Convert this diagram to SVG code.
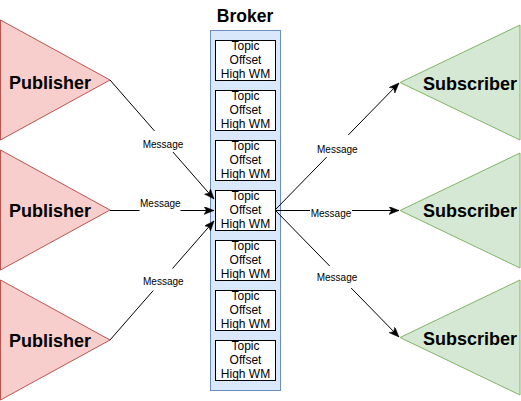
<svg xmlns="http://www.w3.org/2000/svg" width="521" height="401" viewBox="0 0 521 401">
<style>
.pub{fill:#f8cecc;stroke:#b85450;stroke-width:1}
.sub{fill:#d5e8d4;stroke:#82b366;stroke-width:1}
.big{font-family:"Liberation Sans",Arial,sans-serif;font-weight:bold;font-size:18px;fill:#000;text-anchor:middle}
.box{fill:#fff;stroke:#000;stroke-width:1}
.bt{font-family:"Liberation Sans",Arial,sans-serif;font-size:12px;fill:#000;text-anchor:middle}
.edge{stroke:#000;stroke-width:1;fill:none}
.lbg{fill:#fff;stroke:none}
.lt{font-family:"Liberation Sans",Arial,sans-serif;font-size:10px;fill:#000;text-anchor:middle}
</style>
<defs>
<marker id="arr" markerUnits="userSpaceOnUse" markerWidth="12" markerHeight="10" refX="10" refY="4" orient="auto">
<path d="M0,0 L10,4 L0,8 L2.5,4 Z" fill="#000" stroke="#000" stroke-width="0.5"/>
</marker>
</defs>
<rect width="521" height="401" fill="#fff"/>

<g id="broker">
<text class="big" x="245" y="22" style="font-size:17.5px">Broker</text>
<rect x="210.5" y="30.5" width="70" height="360" fill="#dae8fc" stroke="#6c8ebf"/>
</g>
<g id="slot1"><rect class="box" x="215.5" y="40.5" width="60" height="40"/><text class="bt" x="245.5" y="50">Topic</text><text class="bt" x="245.5" y="64">Offset</text><text class="bt" x="245.5" y="78">High WM</text></g>
<g id="slot2"><rect class="box" x="215.5" y="90.5" width="60" height="40"/><text class="bt" x="245.5" y="100">Topic</text><text class="bt" x="245.5" y="114">Offset</text><text class="bt" x="245.5" y="128">High WM</text></g>
<g id="slot3"><rect class="box" x="215.5" y="140.5" width="60" height="40"/><text class="bt" x="245.5" y="150">Topic</text><text class="bt" x="245.5" y="164">Offset</text><text class="bt" x="245.5" y="178">High WM</text></g>
<g id="slot4"><rect class="box" x="215.5" y="190.5" width="60" height="40"/><text class="bt" x="245.5" y="200">Topic</text><text class="bt" x="245.5" y="214">Offset</text><text class="bt" x="245.5" y="228">High WM</text></g>
<g id="slot5"><rect class="box" x="215.5" y="240.5" width="60" height="40"/><text class="bt" x="245.5" y="250">Topic</text><text class="bt" x="245.5" y="264">Offset</text><text class="bt" x="245.5" y="278">High WM</text></g>
<g id="slot6"><rect class="box" x="215.5" y="290.5" width="60" height="40"/><text class="bt" x="245.5" y="300">Topic</text><text class="bt" x="245.5" y="314">Offset</text><text class="bt" x="245.5" y="328">High WM</text></g>
<g id="slot7"><rect class="box" x="215.5" y="340.5" width="60" height="40"/><text class="bt" x="245.5" y="350">Topic</text><text class="bt" x="245.5" y="364">Offset</text><text class="bt" x="245.5" y="378">High WM</text></g>

<g id="pub1"><polygon class="pub" points="0.5,20 110,80 0.5,140"/><text class="big" x="50" y="89">Publisher</text></g>
<g id="pub2"><polygon class="pub" points="0.5,150 110,210 0.5,270"/><text class="big" x="50" y="217">Publisher</text></g>
<g id="pub3"><polygon class="pub" points="0.5,280 110,340 0.5,400"/><text class="big" x="50" y="347">Publisher</text></g>

<g id="sub1"><polygon class="sub" points="520,25 400,82.5 520,140"/><text class="big" x="470" y="90">Subscriber</text></g>
<g id="sub2"><polygon class="sub" points="520,153 400,210.5 520,268"/><text class="big" x="470" y="217">Subscriber</text></g>
<g id="sub3"><polygon class="sub" points="520,280 400,337.5 520,395"/><text class="big" x="470" y="345">Subscriber</text></g>

<g id="connectors">
<line class="edge" x1="110" y1="80" x2="214" y2="199" marker-end="url(#arr)"/>
<line class="edge" x1="110" y1="210.5" x2="214" y2="210.5" marker-end="url(#arr)"/>
<line class="edge" x1="110" y1="340" x2="214" y2="221" marker-end="url(#arr)"/>
<line class="edge" x1="275" y1="210" x2="399" y2="83" marker-end="url(#arr)"/>
<line class="edge" x1="275" y1="210.5" x2="399" y2="210.5" marker-end="url(#arr)"/>
<line class="edge" x1="275" y1="210" x2="399" y2="337" marker-end="url(#arr)"/>
<rect class="lbg" x="142" y="131" width="42" height="21"/><text class="lt" x="163" y="148">Message</text>
<rect class="lbg" x="139.5" y="199" width="41" height="14"/><text class="lt" x="160.3" y="207">Message</text>
<rect class="lbg" x="142" y="268.5" width="42" height="22"/><text class="lt" x="163.3" y="285">Message</text>
<rect class="lbg" x="316" y="135" width="42" height="22"/><text class="lt" x="337.3" y="152.5">Message</text>
<rect class="lbg" x="310" y="205" width="42" height="11"/><text class="lt" x="331" y="216.5">Message</text>
<rect class="lbg" x="316" y="266" width="42" height="22"/><text class="lt" x="337" y="281">Message</text>
</g>
</svg>
